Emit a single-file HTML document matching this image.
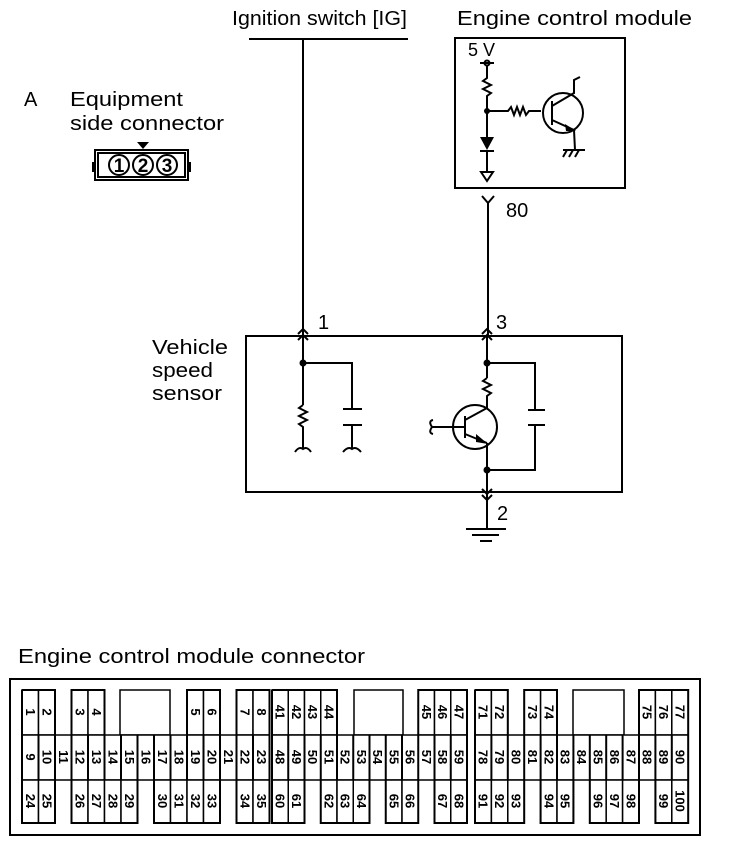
<!DOCTYPE html>
<html><head><meta charset="utf-8"><style>
html,body{margin:0;padding:0;background:#fff}
svg{display:block}
.l{fill:none;stroke:#000;stroke-width:2}
.t{font-family:"Liberation Sans",sans-serif;font-size:20px;fill:#000}
.c{fill:#fff;stroke:#000;stroke-width:1.5}
.n{font-family:"Liberation Sans",sans-serif;font-size:13px;font-weight:bold;fill:#000;text-anchor:middle;dominant-baseline:central}
</style></head><body>
<svg width="736" height="844" viewBox="0 0 736 844" xmlns="http://www.w3.org/2000/svg">
<text class="t" x="232" y="25" textLength="175" lengthAdjust="spacingAndGlyphs">Ignition switch [IG]</text>
<text class="t" x="457" y="25" textLength="235" lengthAdjust="spacingAndGlyphs">Engine control module</text>
<text class="t" x="24" y="106">A</text>
<text class="t" x="70" y="106" textLength="113" lengthAdjust="spacingAndGlyphs">Equipment</text>
<text class="t" x="70" y="130" textLength="154" lengthAdjust="spacingAndGlyphs">side connector</text>
<rect x="95" y="150" width="93" height="30" class="l" stroke-width="2.5"/>
<rect x="98" y="153" width="87" height="24" class="l" stroke-width="1.5"/>
<rect x="92" y="162" width="4" height="10" fill="#000"/>
<rect x="187" y="162" width="4" height="10" fill="#000"/>
<path d="M137 142 L149 142 L143 149 Z" fill="#000"/>
<circle cx="119" cy="165" r="10" class="l" stroke-width="2.5"/>
<circle cx="143" cy="165" r="10" class="l" stroke-width="2.5"/>
<circle cx="167" cy="165" r="10" class="l" stroke-width="2.5"/>
<text x="119" y="172" text-anchor="middle" style="font:bold 19px 'Liberation Sans',sans-serif">1</text>
<text x="143" y="172" text-anchor="middle" style="font:bold 19px 'Liberation Sans',sans-serif">2</text>
<text x="167" y="172" text-anchor="middle" style="font:bold 19px 'Liberation Sans',sans-serif">3</text>
<line x1="249" y1="39" x2="408" y2="39" class="l" stroke-width="2.5"/>
<line x1="303" y1="39" x2="303" y2="336" class="l"/>
<rect x="455" y="38" width="170" height="150" class="l" stroke-width="2.5"/>
<text class="t" x="468" y="56" style="font-size:18px">5 V</text>
<circle cx="487" cy="63" r="2.5" class="l" stroke-width="1.5"/>
<line x1="480" y1="63" x2="494" y2="63" class="l" stroke-width="1.5"/>
<polyline points="487,66 487,78 483,81 491,85 483,89 491,93 487,96 487,111 487,137" class="l"/>
<circle cx="487" cy="111" r="3" fill="#000"/>
<polyline points="487,111 508,111 511,107 514,115 517,107 520,115 523,107 526,115 529,111 541,111" class="l"/>
<path d="M480 137 L494 137 L487 150 Z" fill="#000"/>
<line x1="480" y1="151" x2="494" y2="151" class="l"/>
<line x1="487" y1="150" x2="487" y2="172" class="l"/>
<path d="M481 172 L493 172 L487 181 Z" class="l" stroke-width="1.5"/>
<circle cx="563" cy="113" r="20" class="l"/>
<line x1="552" y1="101" x2="552" y2="125" class="l" stroke-width="3"/>
<polyline points="552,106 574,93 574,80 580,77" class="l"/>
<polyline points="552,120 574,130 575,150" class="l"/>
<path d="M565 124 L576 131 L566 131 Z" fill="#000"/>
<line x1="563" y1="150" x2="585" y2="150" class="l"/>
<line x1="567" y1="150" x2="563" y2="157" class="l" stroke-width="1.5"/>
<line x1="573" y1="150" x2="569" y2="157" class="l" stroke-width="1.5"/>
<line x1="579" y1="150" x2="575" y2="157" class="l" stroke-width="1.5"/>
<polyline points="482,196 488,203 494,196" class="l" stroke-width="1.5"/>
<line x1="488" y1="203" x2="488" y2="336" class="l"/>
<text class="t" x="506" y="217">80</text>
<rect x="246" y="336" width="376" height="156" class="l" stroke-width="2.5"/>
<text class="t" x="152" y="354" textLength="76" lengthAdjust="spacingAndGlyphs">Vehicle</text>
<text class="t" x="152" y="377" textLength="61" lengthAdjust="spacingAndGlyphs">speed</text>
<text class="t" x="152" y="400" textLength="70" lengthAdjust="spacingAndGlyphs">sensor</text>
<text class="t" x="318" y="329">1</text>
<text class="t" x="496" y="329">3</text>
<text class="t" x="497" y="520">2</text>
<polyline points="298,334 303,329 308,334" class="l" stroke-width="1.5"/>
<polyline points="298,340 303,335 308,340" class="l" stroke-width="1.5"/>
<polyline points="482,334 487,329 492,334" class="l" stroke-width="1.5"/>
<polyline points="482,340 487,335 492,340" class="l" stroke-width="1.5"/>
<line x1="303" y1="336" x2="303" y2="405" class="l"/>
<circle cx="303" cy="363" r="3.5" fill="#000"/>
<polyline points="303,363 352,363 352,409" class="l"/>
<line x1="343" y1="409" x2="362" y2="409" class="l"/>
<line x1="343" y1="425" x2="362" y2="425" class="l"/>
<line x1="352" y1="425" x2="352" y2="449" class="l"/>
<path d="M343 452 Q348 446 352 449 Q356 446 361 452" class="l" stroke-width="1.5"/>
<polyline points="303,405 299,408 307,412 299,416 307,420 299,424 303,427 303,449" class="l"/>
<path d="M295 452 Q299 446 303 449 Q307 446 311 452" class="l" stroke-width="1.5"/>
<line x1="487" y1="336" x2="487" y2="378" class="l"/>
<circle cx="487" cy="363" r="3.5" fill="#000"/>
<polyline points="487,363 535,363 535,410" class="l"/>
<line x1="528" y1="410" x2="545" y2="410" class="l"/>
<line x1="528" y1="425" x2="545" y2="425" class="l"/>
<polyline points="535,425 535,470 487,470" class="l"/>
<polyline points="487,378 483,381 491,385 483,389 491,393 487,396 487,408" class="l"/>
<circle cx="475" cy="427" r="22" class="l"/>
<line x1="465" y1="416" x2="465" y2="438" class="l" stroke-width="3"/>
<line x1="432" y1="427" x2="465" y2="427" class="l"/>
<path d="M432 427 Q428 421 433 420 M432 427 Q428 433 433 434" class="l" stroke-width="1.5"/>
<line x1="465" y1="420" x2="487" y2="408" class="l"/>
<line x1="465" y1="434" x2="487" y2="443" class="l"/>
<path d="M476 434 L488 444 L476 442 Z" fill="#000"/>
<line x1="487" y1="443" x2="487" y2="528" class="l"/>
<circle cx="487" cy="470" r="3.5" fill="#000"/>
<polyline points="482,489 487,494 492,489" class="l" stroke-width="1.5"/>
<polyline points="482,495 487,500 492,495" class="l" stroke-width="1.5"/>
<line x1="466" y1="529" x2="506" y2="529" class="l" stroke-width="2.5"/>
<line x1="472" y1="535" x2="499" y2="535" class="l" stroke-width="2"/>
<line x1="480" y1="541" x2="492" y2="541" class="l" stroke-width="2"/>
<text class="t" x="18" y="663" textLength="347" lengthAdjust="spacingAndGlyphs">Engine control module connector</text>
<rect x="10" y="679" width="690" height="156" class="l" stroke-width="2.5"/>
<rect x="120" y="690" width="50" height="45" class="c"/>
<rect x="354" y="690" width="49" height="45" class="c"/>
<rect x="573" y="690" width="51" height="45" class="c"/>
<g>
<rect x="22" y="690" width="16.5" height="45" class="c"/><rect x="38.5" y="690" width="16.5" height="45" class="c"/>
<rect x="71.5" y="690" width="16.5" height="45" class="c"/><rect x="88" y="690" width="16.5" height="45" class="c"/>
<rect x="187" y="690" width="16.5" height="45" class="c"/><rect x="203.5" y="690" width="16.5" height="45" class="c"/>
<rect x="236.5" y="690" width="16.5" height="45" class="c"/><rect x="253" y="690" width="16.5" height="45" class="c"/>
<rect x="22" y="735" width="247.5" height="45" class="c"/>
<line x1="38.5" y1="735" x2="38.5" y2="780" class="l" stroke-width="1.5"/><line x1="55" y1="735" x2="55" y2="780" class="l" stroke-width="1.5"/>
<line x1="71.5" y1="735" x2="71.5" y2="780" class="l" stroke-width="1.5"/><line x1="88" y1="735" x2="88" y2="780" class="l" stroke-width="1.5"/>
<line x1="104.5" y1="735" x2="104.5" y2="780" class="l" stroke-width="1.5"/><line x1="121" y1="735" x2="121" y2="780" class="l" stroke-width="1.5"/>
<line x1="137.5" y1="735" x2="137.5" y2="780" class="l" stroke-width="1.5"/><line x1="154" y1="735" x2="154" y2="780" class="l" stroke-width="1.5"/>
<line x1="170.5" y1="735" x2="170.5" y2="780" class="l" stroke-width="1.5"/><line x1="187" y1="735" x2="187" y2="780" class="l" stroke-width="1.5"/>
<line x1="203.5" y1="735" x2="203.5" y2="780" class="l" stroke-width="1.5"/><line x1="220" y1="735" x2="220" y2="780" class="l" stroke-width="1.5"/>
<line x1="236.5" y1="735" x2="236.5" y2="780" class="l" stroke-width="1.5"/><line x1="253" y1="735" x2="253" y2="780" class="l" stroke-width="1.5"/>
<rect x="22" y="780" width="16.5" height="43" class="c"/><rect x="38.5" y="780" width="16.5" height="43" class="c"/>
<rect x="71.5" y="780" width="16.5" height="43" class="c"/><rect x="88" y="780" width="16.5" height="43" class="c"/>
<rect x="104.5" y="780" width="16.5" height="43" class="c"/><rect x="121" y="780" width="16.5" height="43" class="c"/>
<rect x="154" y="780" width="16.5" height="43" class="c"/><rect x="170.5" y="780" width="16.5" height="43" class="c"/>
<rect x="187" y="780" width="16.5" height="43" class="c"/><rect x="203.5" y="780" width="16.5" height="43" class="c"/>
<rect x="236.5" y="780" width="16.5" height="43" class="c"/><rect x="253" y="780" width="16.5" height="43" class="c"/>
<rect x="272" y="690" width="16.25" height="45" class="c"/><rect x="288.25" y="690" width="16.25" height="45" class="c"/>
<rect x="304.5" y="690" width="16.25" height="45" class="c"/><rect x="320.75" y="690" width="16.25" height="45" class="c"/>
<rect x="418.25" y="690" width="16.25" height="45" class="c"/><rect x="434.5" y="690" width="16.25" height="45" class="c"/><rect x="450.75" y="690" width="16.25" height="45" class="c"/>
<rect x="272" y="735" width="195" height="45" class="c"/>
<line x1="288.25" y1="735" x2="288.25" y2="780" class="l" stroke-width="1.5"/><line x1="304.5" y1="735" x2="304.5" y2="780" class="l" stroke-width="1.5"/>
<line x1="320.75" y1="735" x2="320.75" y2="780" class="l" stroke-width="1.5"/><line x1="337" y1="735" x2="337" y2="780" class="l" stroke-width="1.5"/>
<line x1="353.25" y1="735" x2="353.25" y2="780" class="l" stroke-width="1.5"/><line x1="369.5" y1="735" x2="369.5" y2="780" class="l" stroke-width="1.5"/>
<line x1="385.75" y1="735" x2="385.75" y2="780" class="l" stroke-width="1.5"/><line x1="402" y1="735" x2="402" y2="780" class="l" stroke-width="1.5"/>
<line x1="418.25" y1="735" x2="418.25" y2="780" class="l" stroke-width="1.5"/><line x1="434.5" y1="735" x2="434.5" y2="780" class="l" stroke-width="1.5"/>
<line x1="450.75" y1="735" x2="450.75" y2="780" class="l" stroke-width="1.5"/>
<rect x="272" y="780" width="16.25" height="43" class="c"/><rect x="288.25" y="780" width="16.25" height="43" class="c"/>
<rect x="320.75" y="780" width="16.25" height="43" class="c"/><rect x="337" y="780" width="16.25" height="43" class="c"/><rect x="353.25" y="780" width="16.25" height="43" class="c"/>
<rect x="385.75" y="780" width="16.25" height="43" class="c"/><rect x="402" y="780" width="16.25" height="43" class="c"/>
<rect x="434.5" y="780" width="16.25" height="43" class="c"/><rect x="450.75" y="780" width="16.25" height="43" class="c"/>
<rect x="475" y="690" width="16.4" height="45" class="c"/><rect x="491.4" y="690" width="16.4" height="45" class="c"/>
<rect x="524.2" y="690" width="16.4" height="45" class="c"/><rect x="540.6" y="690" width="16.4" height="45" class="c"/>
<rect x="639" y="690" width="16.4" height="45" class="c"/><rect x="655.4" y="690" width="16.4" height="45" class="c"/><rect x="671.8" y="690" width="16.4" height="45" class="c"/>
<rect x="475" y="735" width="213.2" height="45" class="c"/>
<line x1="491.4" y1="735" x2="491.4" y2="780" class="l" stroke-width="1.5"/><line x1="507.8" y1="735" x2="507.8" y2="780" class="l" stroke-width="1.5"/>
<line x1="524.2" y1="735" x2="524.2" y2="780" class="l" stroke-width="1.5"/><line x1="540.6" y1="735" x2="540.6" y2="780" class="l" stroke-width="1.5"/>
<line x1="557" y1="735" x2="557" y2="780" class="l" stroke-width="1.5"/><line x1="573.4" y1="735" x2="573.4" y2="780" class="l" stroke-width="1.5"/>
<line x1="589.8" y1="735" x2="589.8" y2="780" class="l" stroke-width="1.5"/><line x1="606.2" y1="735" x2="606.2" y2="780" class="l" stroke-width="1.5"/>
<line x1="622.6" y1="735" x2="622.6" y2="780" class="l" stroke-width="1.5"/><line x1="639" y1="735" x2="639" y2="780" class="l" stroke-width="1.5"/>
<line x1="655.4" y1="735" x2="655.4" y2="780" class="l" stroke-width="1.5"/><line x1="671.8" y1="735" x2="671.8" y2="780" class="l" stroke-width="1.5"/>
<rect x="475" y="780" width="16.4" height="43" class="c"/><rect x="491.4" y="780" width="16.4" height="43" class="c"/><rect x="507.8" y="780" width="16.4" height="43" class="c"/>
<rect x="540.6" y="780" width="16.4" height="43" class="c"/><rect x="557" y="780" width="16.4" height="43" class="c"/>
<rect x="589.8" y="780" width="16.4" height="43" class="c"/><rect x="606.2" y="780" width="16.4" height="43" class="c"/><rect x="622.6" y="780" width="16.4" height="43" class="c"/>
<rect x="655.4" y="780" width="16.4" height="43" class="c"/><rect x="671.8" y="780" width="16.4" height="43" class="c"/>
</g>
<path d="M22 690 H55 V735 M71.5 735 V690 H104.5 V735 M187 735 V690 H220 V735 M236.5 735 V690 H269.5 V823 H236.5 V780 M220 780 V823 H154 V780 M137.5 780 V823 H71.5 V780 M55 780 V823 H22 V690" class="l" stroke-width="2.5"/>
<path d="M272 690 H337 V735 M418.25 735 V690 H467 V823 H434.5 V780 M418.25 780 V823 H385.75 V780 M369.5 780 V823 H320.75 V780 M304.5 780 V823 H272 V690" class="l" stroke-width="2.5"/>
<path d="M475 690 H507.8 V735 M524.2 735 V690 H557 V735 M639 735 V690 H688.2 V823 H655.4 V780 M639 780 V823 H589.8 V780 M573.4 780 V823 H540.6 V780 M524.2 780 V823 H475 V690" class="l" stroke-width="2.5"/>
<g class="n">
<text class="n" transform="translate(30.25,712) rotate(90)">1</text><text class="n" transform="translate(46.75,712) rotate(90)">2</text>
<text class="n" transform="translate(79.75,712) rotate(90)">3</text><text class="n" transform="translate(96.25,712) rotate(90)">4</text>
<text class="n" transform="translate(195.25,712) rotate(90)">5</text><text class="n" transform="translate(211.75,712) rotate(90)">6</text>
<text class="n" transform="translate(244.75,712) rotate(90)">7</text><text class="n" transform="translate(261.25,712) rotate(90)">8</text>
<text class="n" transform="translate(30.25,757) rotate(90)">9</text><text class="n" transform="translate(46.75,757) rotate(90)">10</text>
<text class="n" transform="translate(63.25,757) rotate(90)">11</text><text class="n" transform="translate(79.75,757) rotate(90)">12</text>
<text class="n" transform="translate(96.25,757) rotate(90)">13</text><text class="n" transform="translate(112.75,757) rotate(90)">14</text>
<text class="n" transform="translate(129.25,757) rotate(90)">15</text><text class="n" transform="translate(145.75,757) rotate(90)">16</text>
<text class="n" transform="translate(162.25,757) rotate(90)">17</text><text class="n" transform="translate(178.75,757) rotate(90)">18</text>
<text class="n" transform="translate(195.25,757) rotate(90)">19</text><text class="n" transform="translate(211.75,757) rotate(90)">20</text>
<text class="n" transform="translate(228.25,757) rotate(90)">21</text><text class="n" transform="translate(244.75,757) rotate(90)">22</text>
<text class="n" transform="translate(261.25,757) rotate(90)">23</text>
<text class="n" transform="translate(30.25,801) rotate(90)">24</text><text class="n" transform="translate(46.75,801) rotate(90)">25</text>
<text class="n" transform="translate(79.75,801) rotate(90)">26</text><text class="n" transform="translate(96.25,801) rotate(90)">27</text>
<text class="n" transform="translate(112.75,801) rotate(90)">28</text><text class="n" transform="translate(129.25,801) rotate(90)">29</text>
<text class="n" transform="translate(162.25,801) rotate(90)">30</text><text class="n" transform="translate(178.75,801) rotate(90)">31</text>
<text class="n" transform="translate(195.25,801) rotate(90)">32</text><text class="n" transform="translate(211.75,801) rotate(90)">33</text>
<text class="n" transform="translate(244.75,801) rotate(90)">34</text><text class="n" transform="translate(261.25,801) rotate(90)">35</text>
<text class="n" transform="translate(280.1,712) rotate(90)">41</text><text class="n" transform="translate(296.4,712) rotate(90)">42</text>
<text class="n" transform="translate(312.6,712) rotate(90)">43</text><text class="n" transform="translate(328.9,712) rotate(90)">44</text>
<text class="n" transform="translate(426.4,712) rotate(90)">45</text><text class="n" transform="translate(442.6,712) rotate(90)">46</text>
<text class="n" transform="translate(458.9,712) rotate(90)">47</text>
<text class="n" transform="translate(280.1,757) rotate(90)">48</text><text class="n" transform="translate(296.4,757) rotate(90)">49</text>
<text class="n" transform="translate(312.6,757) rotate(90)">50</text><text class="n" transform="translate(328.9,757) rotate(90)">51</text>
<text class="n" transform="translate(345.1,757) rotate(90)">52</text><text class="n" transform="translate(361.4,757) rotate(90)">53</text>
<text class="n" transform="translate(377.6,757) rotate(90)">54</text><text class="n" transform="translate(393.9,757) rotate(90)">55</text>
<text class="n" transform="translate(410.1,757) rotate(90)">56</text><text class="n" transform="translate(426.4,757) rotate(90)">57</text>
<text class="n" transform="translate(442.6,757) rotate(90)">58</text><text class="n" transform="translate(458.9,757) rotate(90)">59</text>
<text class="n" transform="translate(280.1,801) rotate(90)">60</text><text class="n" transform="translate(296.4,801) rotate(90)">61</text>
<text class="n" transform="translate(328.9,801) rotate(90)">62</text><text class="n" transform="translate(345.1,801) rotate(90)">63</text>
<text class="n" transform="translate(361.4,801) rotate(90)">64</text><text class="n" transform="translate(393.9,801) rotate(90)">65</text>
<text class="n" transform="translate(410.1,801) rotate(90)">66</text><text class="n" transform="translate(442.6,801) rotate(90)">67</text>
<text class="n" transform="translate(458.9,801) rotate(90)">68</text>
<text class="n" transform="translate(483.2,712) rotate(90)">71</text><text class="n" transform="translate(499.6,712) rotate(90)">72</text>
<text class="n" transform="translate(532.4,712) rotate(90)">73</text><text class="n" transform="translate(548.8,712) rotate(90)">74</text>
<text class="n" transform="translate(647.2,712) rotate(90)">75</text><text class="n" transform="translate(663.6,712) rotate(90)">76</text>
<text class="n" transform="translate(680,712) rotate(90)">77</text>
<text class="n" transform="translate(483.2,757) rotate(90)">78</text><text class="n" transform="translate(499.6,757) rotate(90)">79</text>
<text class="n" transform="translate(516,757) rotate(90)">80</text><text class="n" transform="translate(532.4,757) rotate(90)">81</text>
<text class="n" transform="translate(548.8,757) rotate(90)">82</text><text class="n" transform="translate(565.2,757) rotate(90)">83</text>
<text class="n" transform="translate(581.6,757) rotate(90)">84</text><text class="n" transform="translate(598,757) rotate(90)">85</text>
<text class="n" transform="translate(614.4,757) rotate(90)">86</text><text class="n" transform="translate(630.8,757) rotate(90)">87</text>
<text class="n" transform="translate(647.2,757) rotate(90)">88</text><text class="n" transform="translate(663.6,757) rotate(90)">89</text>
<text class="n" transform="translate(680,757) rotate(90)">90</text>
<text class="n" transform="translate(483.2,801) rotate(90)">91</text><text class="n" transform="translate(499.6,801) rotate(90)">92</text>
<text class="n" transform="translate(516,801) rotate(90)">93</text><text class="n" transform="translate(548.8,801) rotate(90)">94</text>
<text class="n" transform="translate(565.2,801) rotate(90)">95</text><text class="n" transform="translate(598,801) rotate(90)">96</text>
<text class="n" transform="translate(614.4,801) rotate(90)">97</text><text class="n" transform="translate(630.8,801) rotate(90)">98</text>
<text class="n" transform="translate(663.6,801) rotate(90)">99</text><text class="n" transform="translate(680,801) rotate(90)">100</text>
</g>
</svg>
</body></html>
